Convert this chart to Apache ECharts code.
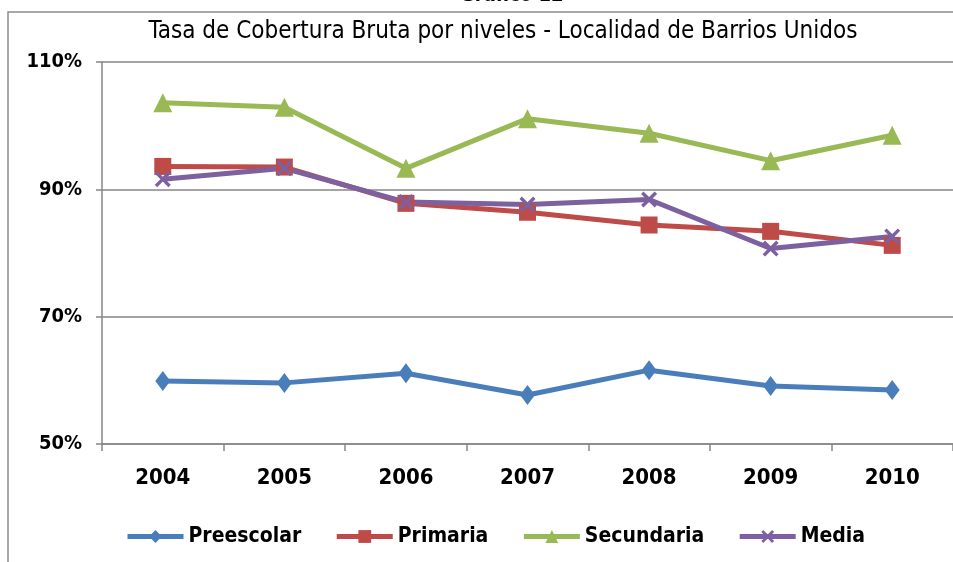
<!DOCTYPE html>
<html>
<head>
<meta charset="utf-8">
<script src="https://cdn.jsdelivr.net/npm/echarts@6/dist/echarts.min.js"></script>
<style>
  html, body { margin: 0; padding: 0; background: #fff; }
  #chart { width: 953px; height: 562px; }
</style>
</head>
<body>
<div id="chart"></div>
<script>
// años y tasas (%)
const years = ['2004', '2005', '2006', '2007', '2008', '2009', '2010'];
const preescolar = [59.9, 59.6, 61.1, 57.7, 61.6, 59.1, 58.5];
const primaria = [93.6, 93.5, 87.8, 86.4, 84.4, 83.4, 81.2];
const secundaria = [103.6, 102.9, 93.3, 101.1, 98.8, 94.5, 98.5];
const media = [91.6, 93.3, 88.0, 87.6, 88.4, 80.7, 82.6];
const yTicks = [50, 70, 90, 110];

const font = "'Liberation Sans Narrow', 'DejaVu Sans Condensed', sans-serif";
const cross = 'path://M0,1.5L1.5,0L5,3.5L8.5,0L10,1.5L6.5,5L10,8.5L8.5,10L5,6.5L1.5,10L0,8.5L3.5,5Z';

let chart = echarts.init(document.getElementById('chart'));

function lineSeries(name, data, color, symbol, size) {
  return {
    name: name,
    type: 'line',
    data: data,
    symbol: symbol,
    symbolSize: size,
    showAllSymbol: true,
    lineStyle: { width: 5, color: color },
    itemStyle: { color: color },
    emphasis: { disabled: true }
  };
}

chart.setOption({
  animation: false,
  title: {
    text: 'Tasa de Cobertura Bruta por niveles - Localidad de Barrios Unidos',
    left: 498,
    textAlign: 'center',
    top: 15,
    textStyle: { fontFamily: font, fontSize: 24, fontWeight: 'normal', color: '#000' }
  },
  graphic: [
    {
      type: 'rect',
      shape: { x: 8, y: 12, width: 960, height: 560 },
      style: { fill: 'none', stroke: '#8c8c8c', lineWidth: 1.5 },
      z: -1
    },
    {
      type: 'text',
      left: 460,
      top: -14,
      style: { text: 'Gráfico 12', font: 'bold 20px ' + font, fill: '#000' }
    }
  ],
  legend: {
    bottom: 10,
    left: 120,
    itemWidth: 56,
    itemHeight: 16,
    itemGap: 33,
    lineStyle: { width: 5 },
    textStyle: { fontFamily: font, fontSize: 21, fontWeight: 'bold', color: '#000' },
    data: ['Preescolar', 'Primaria', 'Secundaria', 'Media']
  },
  grid: { left: 102, right: 0, top: 62, bottom: 118 },
  xAxis: {
    type: 'category',
    data: years,
    boundaryGap: true,
    axisLine: { lineStyle: { color: '#868686', width: 1.5 } },
    axisTick: { show: true, length: 7, alignWithLabel: false, lineStyle: { color: '#868686', width: 1.5 } },
    axisLabel: { fontFamily: font, fontSize: 22, fontWeight: 'bold', color: '#000', margin: 23 }
  },
  yAxis: {
    type: 'value',
    min: yTicks[0],
    max: yTicks[yTicks.length - 1],
    interval: 20,
    axisLine: { show: true, lineStyle: { color: '#868686', width: 1.5 } },
    axisTick: { show: true, length: 6, lineStyle: { color: '#868686', width: 1.5 } },
    splitLine: { lineStyle: { color: '#868686', width: 1.5 } },
    axisLabel: {
      fontFamily: font, fontSize: 20, fontWeight: 'bold', color: '#000', margin: 20,
      formatter: v => v + '%'
    }
  },
  series: [
    lineSeries('Preescolar', preescolar, '#4a7ebb', 'diamond', [15, 20]),
    lineSeries('Primaria', primaria, '#be4b48', 'rect', 17),
    lineSeries('Secundaria', secundaria, '#98b954', 'triangle', 19),
    lineSeries('Media', media, '#7d60a0', cross, 16)
  ]
});
</script>
</body>
</html>
